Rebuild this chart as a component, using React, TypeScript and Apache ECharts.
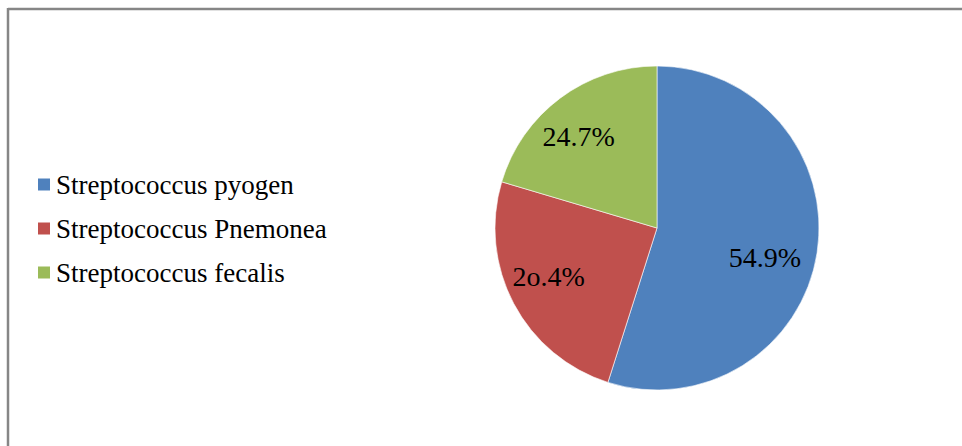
import React, { useEffect, useRef } from "react";
import * as echarts from "echarts";

const categories = ["Streptococcus pyogen", "Streptococcus Pnemonea", "Streptococcus fecalis"];
const values = [54.9, 24.7, 20.4];
const valueLabels = ["54.9%", "2o.4%", "24.7%"];
const colors = ["#4F81BD", "#C0504D", "#9BBB59"];

const labelOffsets: [number, number][] = [[25, 17], [-34, 9], [-28, -24]];

export default function App() {
  const ref = useRef<HTMLDivElement>(null);
  useEffect(() => {
    document.body.style.margin = "0";
    const chart = echarts.init(ref.current!, undefined, { renderer: "svg" });
    chart.setOption({
      animation: false,
      backgroundColor: "#ffffff",
      legend: {
        orient: "vertical",
        left: 31,
        top: 166,
        itemWidth: 14,
        itemHeight: 14,
        itemGap: 17,
        icon: "rect",
        textStyle: { fontFamily: "Liberation Serif", fontSize: 27, color: "#000" },
        data: categories,
      },
      graphic: [
        { type: "line", shape: { x1: 8, y1: 9, x2: 962, y2: 9 }, style: { stroke: "#868686", lineWidth: 2.5 } },
        { type: "line", shape: { x1: 8, y1: 8, x2: 8, y2: 446 }, style: { stroke: "#868686", lineWidth: 2.5 } },
      ],
      series: [
        {
          type: "pie",
          center: [657, 228],
          radius: [0, 162],
          startAngle: 90,
          clockwise: true,
          avoidLabelOverlap: false,
          itemStyle: { borderColor: "#ffffff", borderWidth: 0.6 },
          emphasis: { disabled: true },
          labelLine: { show: false },
          data: categories.map((name, i) => ({
            name,
            value: values[i],
            itemStyle: { color: colors[i] },
            label: {
              show: true,
              position: "inside",
              offset: labelOffsets[i],
              formatter: valueLabels[i],
              fontFamily: "Liberation Serif",
              fontSize: 28,
              color: "#000",
            },
          })),
        },
      ],
    });
    return () => chart.dispose();
  }, []);
  return <div ref={ref} style={{ width: 962, height: 446 }} />;
}
